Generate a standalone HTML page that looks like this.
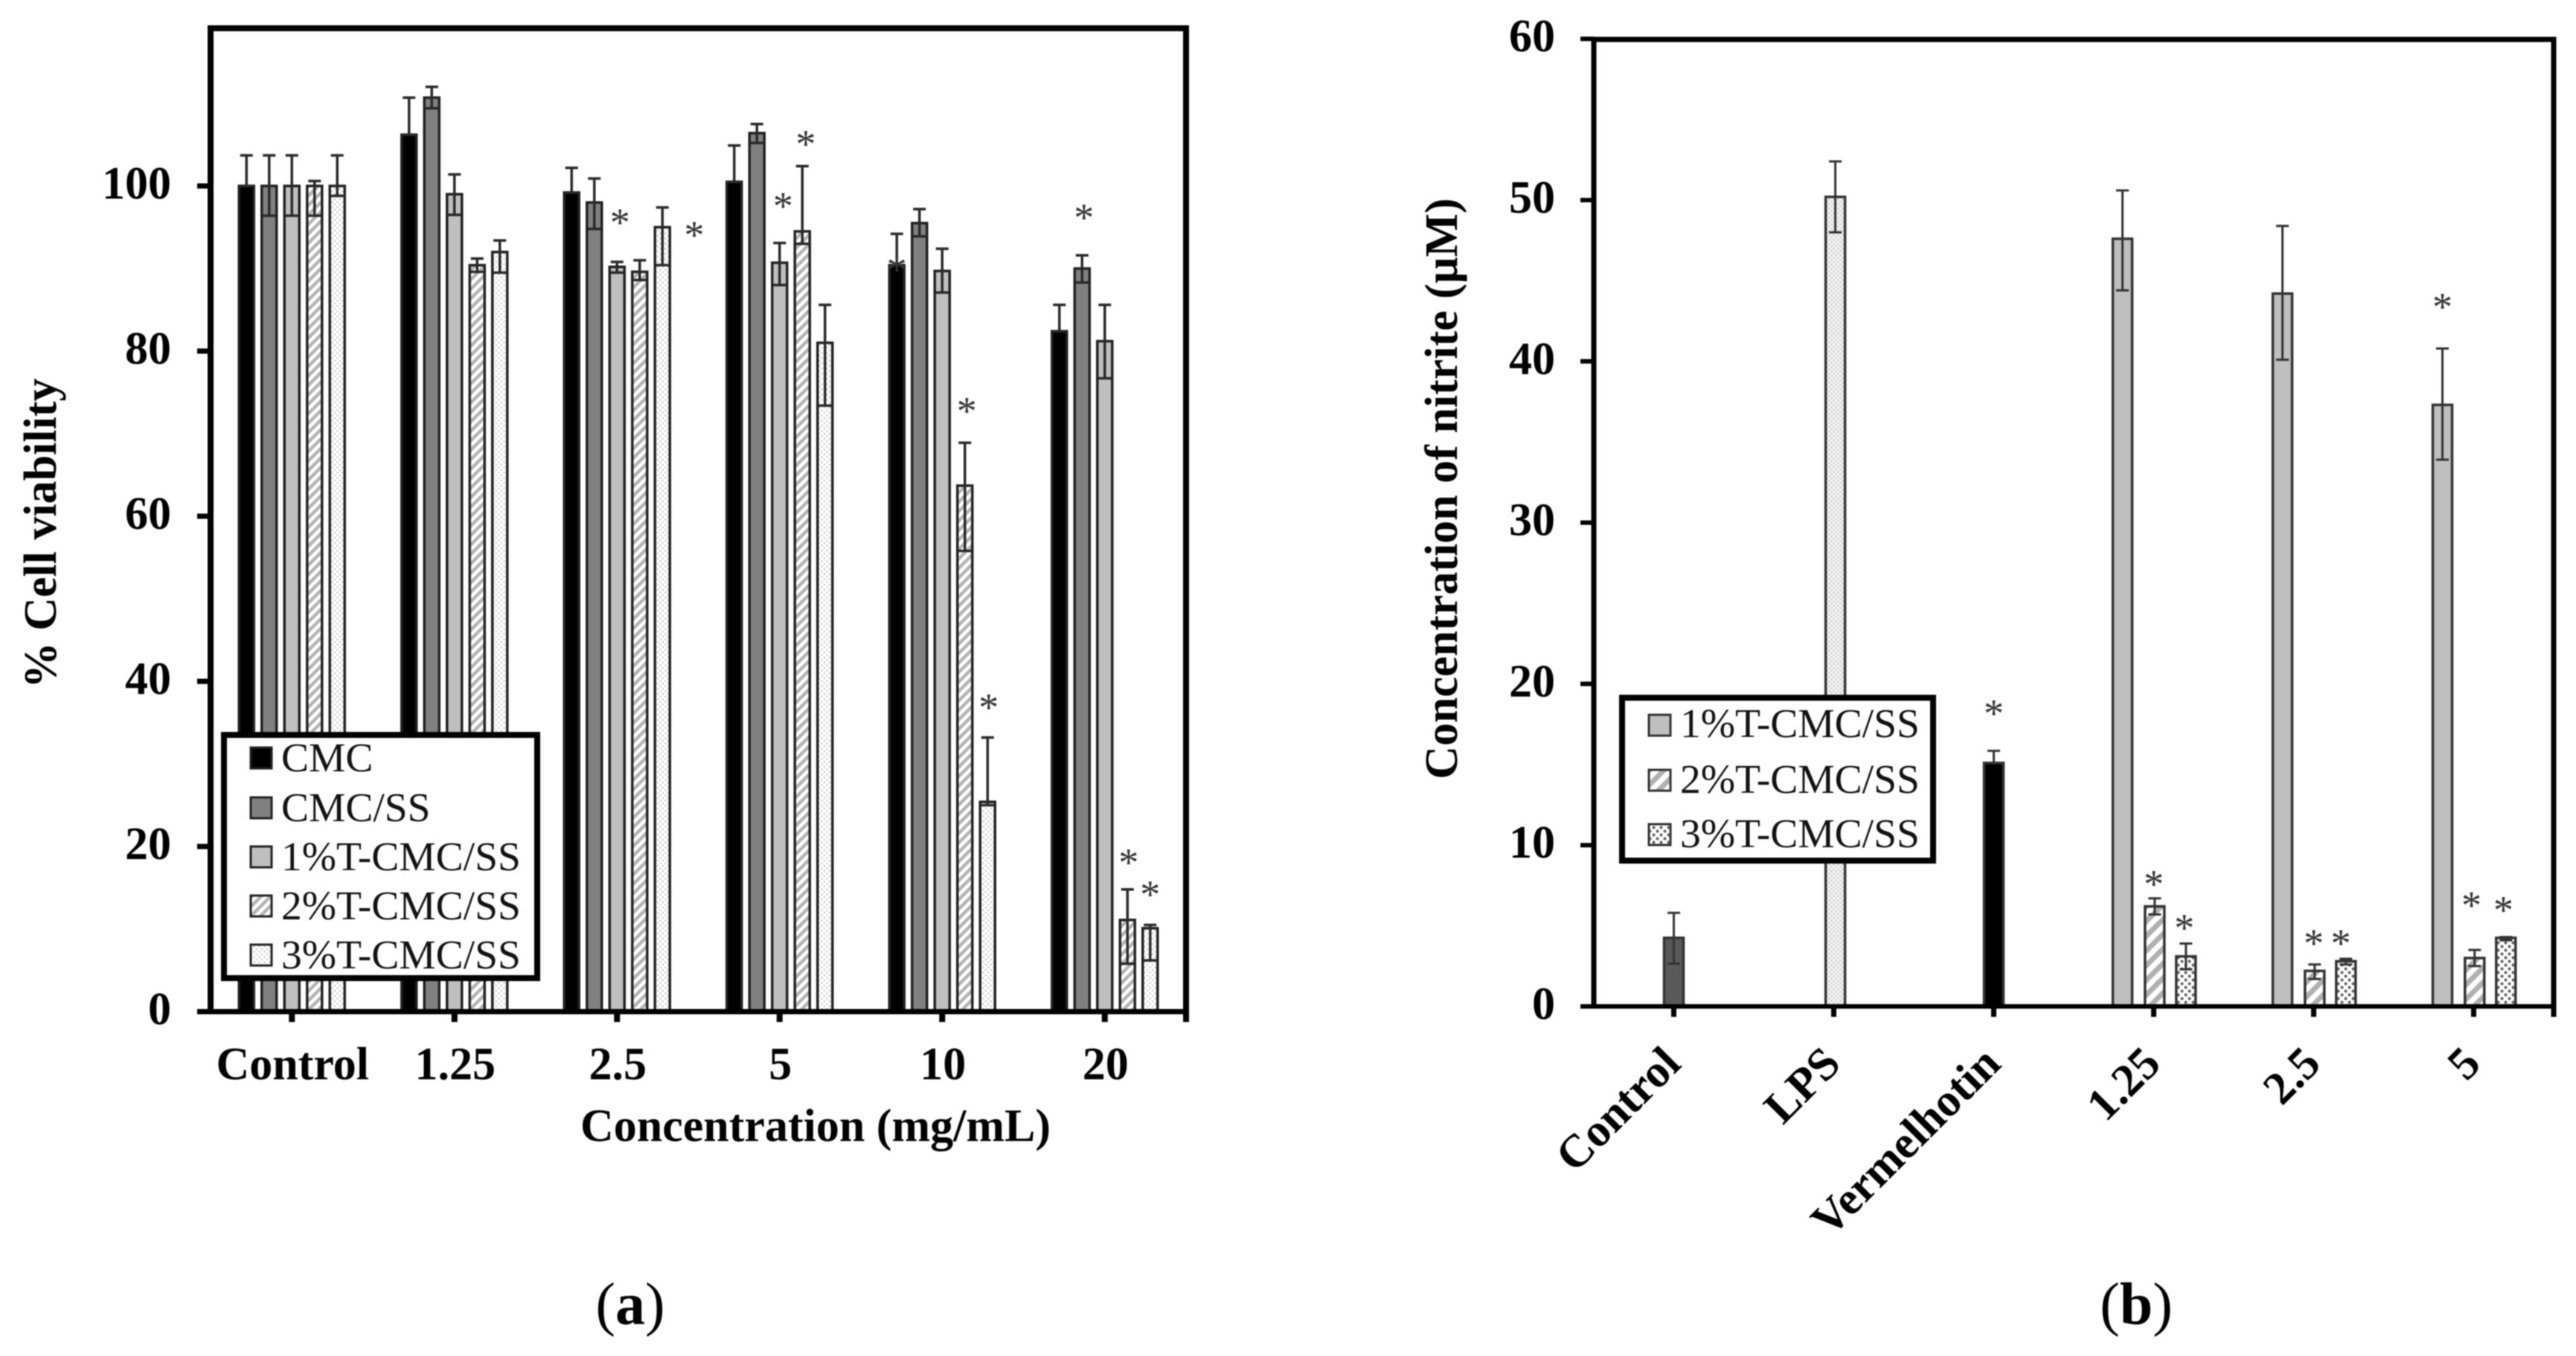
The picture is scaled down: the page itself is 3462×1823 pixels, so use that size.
<!DOCTYPE html>
<html lang="en">
<head>
<meta charset="utf-8">
<title>Cell viability and nitrite concentration charts</title>
<style>
html,body{margin:0;padding:0;background:#fff;width:3462px;height:1823px;overflow:hidden}
svg{display:block;filter:blur(0.8px)}
text{font-family:"Liberation Serif",serif;fill:#000}
.tick{font-weight:bold;font-size:62px}
.title{font-weight:bold;font-size:62px}
.leg{font-size:55.5px;fill:#111}
.star{font-size:54px;fill:#333;text-anchor:middle}
.cap{font-size:80px}
</style>
</head>
<body>
<svg id="figure" xmlns="http://www.w3.org/2000/svg" width="3462" height="1823" viewBox="0 0 3462 1823">
<defs>
<pattern id="hatchA" patternUnits="userSpaceOnUse" width="9" height="9" patternTransform="rotate(45)"><rect width="9" height="9" fill="#fff"/><rect width="4.5" height="9" fill="#b4b4b4"/></pattern>
<pattern id="dotsA" patternUnits="userSpaceOnUse" width="7" height="7"><rect width="7" height="7" fill="#fff"/><circle cx="2" cy="2" r="1.4" fill="#cfcfcf"/><circle cx="5.5" cy="5.5" r="1.4" fill="#cfcfcf"/></pattern>
<pattern id="hatchB" patternUnits="userSpaceOnUse" width="14" height="14" patternTransform="rotate(45)"><rect width="14" height="14" fill="#fff"/><rect width="7" height="14" fill="#b0b0b0"/></pattern>
<pattern id="dotsB" patternUnits="userSpaceOnUse" width="10" height="10"><rect width="10" height="10" fill="#fff"/><circle cx="2.5" cy="2.5" r="2.1" fill="#666"/><circle cx="7.5" cy="7.5" r="2.1" fill="#666"/></pattern>
<pattern id="dotsLight" patternUnits="userSpaceOnUse" width="6" height="6"><rect width="6" height="6" fill="#f4f4f4"/><circle cx="1.5" cy="1.5" r="1.2" fill="#c4c4c4"/><circle cx="4.5" cy="4.5" r="1.2" fill="#c4c4c4"/></pattern>
</defs>

<g id="chartA">
  <g id="barsA"></g>
  <g id="starsA"></g>
  <g id="axesA"></g>
  <text class="title" text-anchor="middle" transform="translate(75,717) rotate(-90)">% Cell viability</text>
  <text class="title" text-anchor="middle" x="1096" y="1534">Concentration (mg/mL)</text>
  <g>
    <rect x="301" y="988" width="421" height="327" fill="#fff" stroke="#000" stroke-width="8"/>
    <rect x="337" y="1005" width="28" height="28" fill="#000" stroke="#222" stroke-width="3"/>
    <text class="leg" x="378" y="1037">CMC</text>
    <rect x="337" y="1072" width="28" height="28" fill="#808080" stroke="#222" stroke-width="3"/>
    <text class="leg" x="378" y="1104">CMC/SS</text>
    <rect x="337" y="1138" width="28" height="28" fill="#bfbfbf" stroke="#222" stroke-width="3"/>
    <text class="leg" x="378" y="1170">1%T-CMC/SS</text>
    <rect x="337" y="1204" width="28" height="28" fill="url(#hatchA)" stroke="#222" stroke-width="3"/>
    <text class="leg" x="378" y="1236">2%T-CMC/SS</text>
    <rect x="337" y="1270" width="28" height="28" fill="url(#dotsA)" stroke="#222" stroke-width="3"/>
    <text class="leg" x="378" y="1302">3%T-CMC/SS</text>
  </g>
  <text class="cap" x="847" y="1780" text-anchor="middle">(<tspan font-weight="bold">a</tspan>)</text>
</g>

<g id="chartB">
  <g id="barsB"></g>
  <g id="starsB"></g>
  <g id="axesB"></g>
  <text class="title" text-anchor="middle" transform="translate(1958,657) rotate(-90)">Concentration of nitrite (µM)</text>
  <g>
    <rect x="2180" y="938" width="418" height="219" fill="#fff" stroke="#000" stroke-width="8"/>
    <rect x="2216" y="961" width="29" height="28" fill="#bfbfbf" stroke="#333" stroke-width="3"/>
    <text class="leg" x="2258" y="991">1%T-CMC/SS</text>
    <rect x="2216" y="1035" width="29" height="28" fill="url(#hatchB)" stroke="#333" stroke-width="3"/>
    <text class="leg" x="2258" y="1066">2%T-CMC/SS</text>
    <rect x="2216" y="1108" width="29" height="28" fill="url(#dotsB)" stroke="#333" stroke-width="3"/>
    <text class="leg" x="2258" y="1139">3%T-CMC/SS</text>
  </g>
  <text class="cap" x="2871" y="1780" text-anchor="middle">(<tspan font-weight="bold">b</tspan>)</text>
</g>
</svg>

<script>
// ---------- Chart A data ----------
const categoriesA = ['Control', '1.25', '2.5', '5', '10', '20'];
const yTicksA = [0, 20, 40, 60, 80, 100];
const cmcValues = [100, 106.2, 99.2, 100.5, 90.4, 82.4];
const cmcErrUp = [3.7, 4.5, 3, 4.4, 3.8, 3.2];
const cmcErrDown = [0, 0, 0, 0, 0, 0];
const cmcSsValues = [100, 110.7, 98, 106.4, 95.5, 90];
const cmcSsErrUp = [3.7, 1.3, 2.9, 1.1, 1.7, 1.6];
const cmcSsErrDown = [3.6, 1.3, 3.2, 1.2, 1.6, 1.7];
const t1Values = [100, 99, 90.2, 90.7, 89.7, 81.2];
const t1ErrUp = [3.7, 2.4, 0.6, 2.4, 2.7, 4.4];
const t1ErrDown = [3.6, 2.5, 0.7, 2.7, 2.6, 4.5];
const t2Values = [100, 90.4, 89.6, 94.5, 63.7, 11.1];
const t2ErrUp = [0.6, 0.8, 1.4, 7.9, 5.2, 3.7];
const t2ErrDown = [3.6, 0.8, 1, 1.5, 7.9, 5.3];
const t3Values = [100, 92, 95, 81, 25.4, 10.1];
const t3ErrUp = [3.7, 1.4, 2.4, 4.6, 7.8, 0.4];
const t3ErrDown = [1.2, 2.5, 4.6, 7.6, 0.4, 3.9];
const starCategoryA = [2, 2, 3, 3, 4, 5, 4, 5, 5, 4];
const starSlotA = [0.13, 3.4, 0.15, 1.15, 1.08, -0.92, 2.05, 1.05, 2, -2];
const starLevelA = [96.2, 94.7, 98.2, 105.7, 73.4, 96.8, 37.5, 18.7, 14.8, 90.5];

// ---------- Chart B data ----------
const categoriesB = ['Control', 'LPS', 'Vermelhotin', '1.25', '2.5', '5'];
const yTicksB = [0, 10, 20, 30, 40, 50, 60];
const controlValues = [4.25, null, null, null, null, null];
const controlErrUp = [1.55, 0, 0, 0, 0, 0];
const controlErrDown = [1.6, 0, 0, 0, 0, 0];
const lpsValues = [null, 50.2, null, null, null, null];
const lpsErrUp = [0, 2.2, 0, 0, 0, 0];
const lpsErrDown = [0, 2.2, 0, 0, 0, 0];
const vermValues = [null, null, 15.1, null, null, null];
const vermErrUp = [0, 0, 0.75, 0, 0, 0];
const vermErrDown = [0, 0, 0, 0, 0, 0];
const b1Values = [null, null, null, 47.6, 44.2, 37.3];
const b1ErrUp = [0, 0, 0, 3, 4.2, 3.5];
const b1ErrDown = [0, 0, 0, 3.2, 4.1, 3.4];
const b2Values = [null, null, null, 6.2, 2.2, 3];
const b2ErrUp = [0, 0, 0, 0.5, 0.4, 0.5];
const b2ErrDown = [0, 0, 0, 0.5, 0.5, 0.5];
const b3Values = [null, null, null, 3.1, 2.8, 4.25];
const b3ErrUp = [0, 0, 0, 0.8, 0.15, 0.05];
const b3ErrDown = [0, 0, 0, 0.8, 0.2, 0.15];
const starCategoryB = [2, 3, 3, 4, 4, 5, 5, 5];
const starSlotB = [0, 0, 0.98, 0, 0.87, -1, -0.07, 0.95];
const starLevelB = [18.5, 7.9, 5.2, 4.25, 4.25, 43.7, 6.6, 6.3];

// ---------- Axis functions ----------
const yA = function (v) { return 1360 - 11.1 * v; };
const xA = function (g, slot) { return 283 + 218.5 * (g + 0.5) + slot * 30.5; };
const yB = function (v) { return 1353 - 21.68 * v; };
const xB = function (g, slot) { return 2142 + 215 * (g + 0.5) + slot * 42; };

const NS = 'http://www.w3.org/2000/svg';
function make(parent, tag, attrs, txt) {
  const el = document.createElementNS(NS, tag);
  for (const k in attrs) el.setAttribute(k, attrs[k]);
  if (txt !== undefined) el.textContent = txt;
  parent.appendChild(el);
  return el;
}

function drawBar(parent, x, w, yTop, yBase, fill, stroke, sw) {
  const el = make(parent, 'rect', {x: x - w / 2, y: yTop, width: w, height: yBase - yTop, fill: fill, stroke: stroke, 'stroke-width': sw});
  
  
}

function drawError(parent, x, yHi, yLo, capW, col, sw) {
  const g = make(parent, 'g', {stroke: col, 'stroke-width': sw, fill: 'none'});
  
  
  make(g, 'line', {x1: x, x2: x, y1: yHi, y2: yLo});
  make(g, 'line', {x1: x - capW / 2, x2: x + capW / 2, y1: yHi, y2: yHi});
  make(g, 'line', {x1: x - capW / 2, x2: x + capW / 2, y1: yLo, y2: yLo});
}

function drawStar(parent, x, y) {
  const el = make(parent, 'text', {x: x, y: y + 25, 'class': 'star'}, '*');
  
  
}

// ---------- Chart A ----------
const seriesA = [
  {v: cmcValues, up: cmcErrUp, dn: cmcErrDown, fill: '#000', slot: -2},
  {v: cmcSsValues, up: cmcSsErrUp, dn: cmcSsErrDown, fill: '#808080', slot: -1},
  {v: t1Values, up: t1ErrUp, dn: t1ErrDown, fill: '#bfbfbf', slot: 0},
  {v: t2Values, up: t2ErrUp, dn: t2ErrDown, fill: 'url(#hatchA)', slot: 1},
  {v: t3Values, up: t3ErrUp, dn: t3ErrDown, fill: 'url(#dotsA)', slot: 2}
];
const barsA = document.getElementById('barsA');
seriesA.forEach(function (s) {
  s.v.forEach(function (val, g) {
    drawBar(barsA, xA(g, s.slot), 20, yA(val), yA(0), s.fill, '#222', 3.5);
  });
});
seriesA.forEach(function (s) {
  s.v.forEach(function (val, g) {
    drawError(barsA, xA(g, s.slot), yA(val + s.up[g]), yA(val - s.dn[g]), 17, '#2a2a2a', 3.5);
  });
});
const starsA = document.getElementById('starsA');
starLevelA.forEach(function (lvl, i) {
  drawStar(starsA, xA(starCategoryA[i], starSlotA[i]), yA(lvl));
});
const axesA = document.getElementById('axesA');
const frameA = make(axesA, 'path', {d: 'M283 1360V38H1594V1360', fill: 'none', stroke: '#000', 'stroke-width': 8});


const baseA = make(axesA, 'line', {x1: 265, x2: 1598, y1: yA(0), y2: yA(0), stroke: '#000', 'stroke-width': 7});


const endTickA = make(axesA, 'line', {x1: 1594, x2: 1594, y1: yA(0), y2: yA(0) + 14, stroke: '#000', 'stroke-width': 8});


yTicksA.forEach(function (t) {
  const tk = make(axesA, 'line', {x1: 265, x2: 283, y1: yA(t), y2: yA(t), stroke: '#000', 'stroke-width': 7});
  
  
  const lb = make(axesA, 'text', {x: 230, y: yA(t) + 17, 'text-anchor': 'end', 'class': 'tick'}, String(t));
  
  
});
categoriesA.forEach(function (c, g) {
  const tk = make(axesA, 'line', {x1: xA(g, 0), x2: xA(g, 0), y1: yA(0), y2: yA(0) + 14, stroke: '#000', 'stroke-width': 8});
  
  
  const lb = make(axesA, 'text', {x: xA(g, 0) + 1, y: 1451, 'text-anchor': 'middle', 'class': 'tick'}, c);
  
  
});

// ---------- Chart B ----------
const seriesB = [
  {v: controlValues, up: controlErrUp, dn: controlErrDown, fill: '#595959', slot: 0},
  {v: lpsValues, up: lpsErrUp, dn: lpsErrDown, fill: 'url(#dotsLight)', slot: 0.05},
  {v: vermValues, up: vermErrUp, dn: vermErrDown, fill: '#000', slot: 0},
  {v: b1Values, up: b1ErrUp, dn: b1ErrDown, fill: '#bfbfbf', slot: -1},
  {v: b2Values, up: b2ErrUp, dn: b2ErrDown, fill: 'url(#hatchB)', slot: 0.03},
  {v: b3Values, up: b3ErrUp, dn: b3ErrDown, fill: 'url(#dotsB)', slot: 1.03}
];
const barsB = document.getElementById('barsB');
seriesB.forEach(function (s) {
  s.v.forEach(function (val, g) {
    if (val === null) return;
    drawBar(barsB, xB(g, s.slot), 26, yB(val), yB(0), s.fill, '#333', 3.5);
  });
});
seriesB.forEach(function (s) {
  s.v.forEach(function (val, g) {
    if (val === null) return;
    drawError(barsB, xB(g, s.slot), yB(val + s.up[g]), yB(val - s.dn[g]), 17, '#333', 3);
  });
});
const starsB = document.getElementById('starsB');
starLevelB.forEach(function (lvl, i) {
  drawStar(starsB, xB(starCategoryB[i], starSlotB[i]), yB(lvl));
});
const axesB = document.getElementById('axesB');
const frameB = make(axesB, 'path', {d: 'M2142 1353V53H3432V1367', fill: 'none', stroke: '#000', 'stroke-width': 7});


const baseB = make(axesB, 'line', {x1: 2124, x2: 3432, y1: yB(0), y2: yB(0), stroke: '#000', 'stroke-width': 6});


yTicksB.forEach(function (t) {
  const tk = make(axesB, 'line', {x1: 2124, x2: 2142, y1: yB(t), y2: yB(t), stroke: '#000', 'stroke-width': 6});
  
  
  const lb = make(axesB, 'text', {x: 2090, y: yB(t) + 17, 'text-anchor': 'end', 'class': 'tick'}, String(t));
  
  
});
categoriesB.forEach(function (c, g) {
  const tk = make(axesB, 'line', {x1: xB(g, 0), x2: xB(g, 0), y1: yB(0), y2: yB(0) + 14, stroke: '#000', 'stroke-width': 7});
  
  
  const ax = xB(g, 0) + 12;
  const lb = make(axesB, 'text', {'text-anchor': 'end', 'class': 'tick', transform: 'translate(' + ax + ',1433) rotate(-45)'}, c);
  
  
});
</script>
</body>
</html>
